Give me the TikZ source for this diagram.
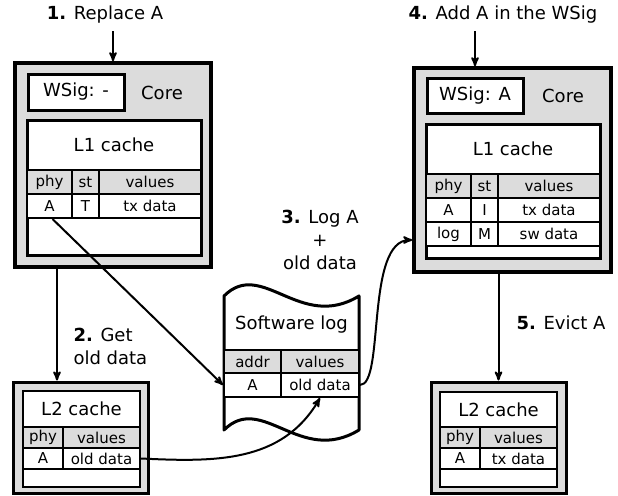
\documentclass[tikz,border=0pt]{standalone}
\usepackage{fontspec}
\setmainfont{DejaVu Sans}
\usepackage{tikz}
\usetikzlibrary{
    arrows,
    shapes,
    calc,
    positioning,
}
\definecolor{paleGray}{RGB}{220,220,220}

\begin{document}
\begin{tikzpicture}[x=1pt,y=-1pt,>=stealth',auto]

    \tikzstyle{commonNode}=[draw=black, inner sep=0pt, align=center]
    \tikzstyle{frame}=[commonNode, fill=paleGray, line width=3.5pt]
    \tikzstyle{cache}=[commonNode, fill=white, line width=3pt, font=\fontsize{18}{22}\selectfont]
    \tikzstyle{cell}=[commonNode, fill=white, line width=2pt, font=\fontsize{15}{18}\selectfont]
    \tikzstyle{headCell}=[cell, fill=paleGray]
    \tikzstyle{title}=[font=\fontsize{18}{23}\selectfont]
    \tikzstyle{link}=[->, line width=2pt]

    \useasboundingbox (0,0) rectangle (618,495);

    % Row heights and column widths
    \def \rowh {24}
    \def \phyw {45}
    \def \stw {27}
    \def \valw {102}

    % Left core
    \node at (113,165) [frame, minimum width=196pt, minimum height=204pt] (leftCore) {};
    \node at (76,92) [cache, minimum width=96pt, minimum height=36pt] (leftSig) {WSig: -};
    \node at (162,93) [title] (leftCoreText) {Core};
    \node at (114,187.5) [cache, minimum width=174pt, minimum height=135pt] (leftL1) {};
    \node at (114,145) [title] (leftL1Title) {L1 cache};
    \node at (49.5,182) [headCell, minimum width=\phyw pt, minimum height=\rowh pt] (leftPhy) {phy};
    \node at (85.5,182) [headCell, minimum width=\stw pt, minimum height=\rowh pt] (leftSt) {st};
    \node at (150,182) [headCell, minimum width=\valw pt, minimum height=\rowh pt] (leftVal) {values};
    \node at (49.5,206) [cell, minimum width=\phyw pt, minimum height=\rowh pt] (leftA) {A};
    \node at (85.5,206) [cell, minimum width=\stw pt, minimum height=\rowh pt] (leftT) {T};
    \node at (150,206) [cell, minimum width=\valw pt, minimum height=\rowh pt] (leftTx) {tx data};

    % Right core
    \node at (512.5,170) [frame, minimum width=197pt, minimum height=204pt] (rightCore) {};
    \node at (475,95.5) [cache, minimum width=96pt, minimum height=35pt] (rightSig) {WSig: A};
    \node at (563,96) [title] (rightCoreText) {Core};
    \node at (513,191) [cache, minimum width=174pt, minimum height=134pt] (rightL1) {};
    \node at (513,149) [title] (rightL1Title) {L1 cache};
    \node at (448.5,186) [headCell, minimum width=\phyw pt, minimum height=\rowh pt] (rightPhy) {phy};
    \node at (484.5,186) [headCell, minimum width=\stw pt, minimum height=\rowh pt] (rightSt) {st};
    \node at (549,186) [headCell, minimum width=\valw pt, minimum height=\rowh pt] (rightVal) {values};
    \node at (448.5,210) [cell, minimum width=\phyw pt, minimum height=\rowh pt] (rightA) {A};
    \node at (484.5,210) [cell, minimum width=\stw pt, minimum height=\rowh pt] (rightI) {I};
    \node at (549,210) [cell, minimum width=\valw pt, minimum height=\rowh pt] (rightTx) {tx data};
    \node at (448.5,234) [cell, minimum width=\phyw pt, minimum height=\rowh pt] (rightLog) {log};
    \node at (484.5,234) [cell, minimum width=\stw pt, minimum height=\rowh pt] (rightM) {M};
    \node at (549,234) [cell, minimum width=\valw pt, minimum height=\rowh pt] (rightSw) {sw data};

    % L2 caches
    \node at (80.5,437.5) [frame, line width=3pt, minimum width=135pt, minimum height=111pt] (leftL2) {};
    \node at (81.5,439) [cache, line width=2.5pt, minimum width=117pt, minimum height=96pt] (leftL2in) {};
    \node at (81.5,409) [title] (leftL2Title) {L2 cache};
    \node at (43,437.5) [headCell, minimum width=40pt, minimum height=21pt] (leftL2Phy) {phy};
    \node at (101.5,437.5) [headCell, minimum width=77pt, minimum height=21pt] (leftL2Val) {values};
    \node at (43,458.5) [cell, minimum width=40pt, minimum height=21pt] (leftL2A) {A};
    \node at (101.5,458.5) [cell, minimum width=77pt, minimum height=21pt] (leftOld) {old data};

    \node at (498.5,437.5) [frame, line width=3pt, minimum width=135pt, minimum height=111pt] (rightL2) {};
    \node at (498.5,439.5) [cache, line width=2.5pt, minimum width=117pt, minimum height=95pt] (rightL2in) {};
    \node at (498.5,409.5) [title] (rightL2Title) {L2 cache};
    \node at (460,437.5) [headCell, minimum width=40pt, minimum height=21pt] (rightL2Phy) {phy};
    \node at (518.5,437.5) [headCell, minimum width=77pt, minimum height=21pt] (rightL2Val) {values};
    \node at (460,458.5) [cell, minimum width=40pt, minimum height=21pt] (rightL2A) {A};
    \node at (518.5,458.5) [cell, minimum width=77pt, minimum height=21pt] (rightL2Tx) {tx data};

    % Software log
    \draw [line width=3pt, fill=white, line join=round]
        (224,296) .. controls (262,258) and (300,332) .. (359,296)
        -- (359,430) .. controls (300,466) and (262,392) .. (224,430) -- cycle;
    \node at (291.5,325) [title] (logTitle) {Software log};
    \node at (252.5,361.5) [headCell, minimum width=57pt, minimum height=23pt] (logAddr) {addr};
    \node at (320,361.5) [headCell, minimum width=78pt, minimum height=23pt] (logVal) {values};
    \node at (252.5,385) [cell, minimum width=57pt, minimum height=24pt] (logA) {A};
    \node at (320,385) [cell, minimum width=78pt, minimum height=24pt] (logOld) {old data};

    % Steps
    \node at (105,15) [title] (stepOne) {\textbf{1.} Replace A};
    \node at (70,346) [title, anchor=west, align=left] (stepTwo) {\textbf{2.} Get\\old data};
    \node at (320,240) [title, align=center] (stepThree) {\textbf{3.} Log A\\+\\old data};
    \node at (503,15) [title] (stepFour) {\textbf{4.} Add A in the WSig};
    \node at (513,323) [title, anchor=west] (stepFive) {\textbf{5.} Evict A};

    % Connectors
    \coordinate (getX) at (57,0);
    \draw [link, shorten <=4pt] (stepOne.south -| leftCore.north) -- (leftCore.north);
    \draw [link] (getX |- leftCore.south) -- (getX |- leftL2.north);
    \draw [link] ([xshift=3pt]leftA.south) -- (logA.west);
    \draw [link] (leftOld.east) .. controls (215,462) and (282,463) .. (logOld.south);
    \draw [link] (logOld.east) .. controls (385,385) and (365,240) .. ([yshift=-70pt]rightCore.west);
    \draw [link, shorten <=4pt] (stepFour.south -| rightSig.north) -- (rightCore.north -| rightSig.north);
    \draw [link] (rightCore.south -| rightL2.north) -- (rightL2.north);

\end{tikzpicture}
\end{document}
